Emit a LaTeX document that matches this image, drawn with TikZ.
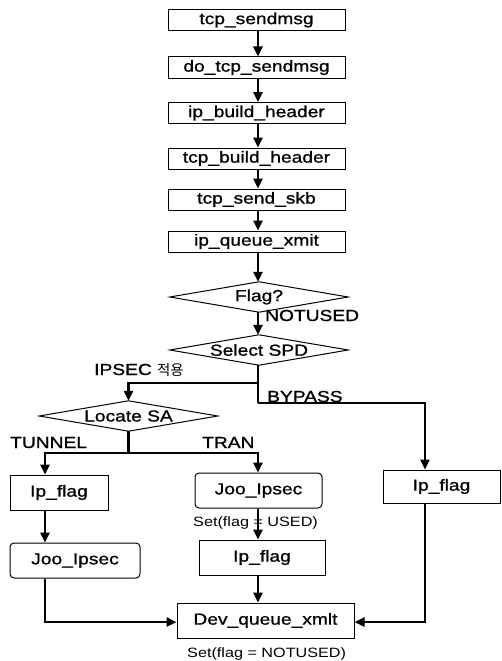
\documentclass[tikz,border=0pt]{standalone}
\usepackage{fontspec}
\setmainfont{Liberation Sans}[FakeStretch=1.2]
\newfontfamily\heavy{Liberation Sans}[FakeStretch=1.2,FakeBold=1]
\newfontfamily\kr{Noto Sans CJK KR}
\usetikzlibrary{arrows.meta,calc}
\begin{document}
\begin{tikzpicture}[x=1pt,y=-1pt,
  txt/.style={font=\heavy\fontsize{16}{18}\selectfont},
  small/.style={font=\fontsize{13.5}{15}\selectfont},
  topbox/.style={txt,draw,line width=1pt,minimum width=177pt,minimum height=21pt,inner sep=0pt},
  fbox/.style={txt,draw,line width=1pt,minimum height=35pt,inner sep=0pt},
  rbox/.style={fbox,rounded corners=4pt},
  dia/.style={txt,minimum width=178pt,minimum height=30pt,inner sep=0pt},
  dshape/.style={line width=1pt},
  lbl/.style={txt,inner sep=0pt,anchor=base west},
  slbl/.style={small,inner sep=0pt,anchor=base west},
  conn/.style={line width=2.4pt},
  arr/.style={conn,-{Triangle[length=10pt,width=9pt]}},
]
\useasboundingbox (0,0) rectangle (501,661);
\coordinate (cx) at (258,0);

% top chain
\node[topbox] (b1) at (256.5,20) {tcp\_sendmsg};
\node[topbox] (b2) at (256.5,67.5) {do\_tcp\_sendmsg};
\node[topbox] (b3) at (256.5,113) {ip\_build\_header};
\node[topbox] (b4) at (256.5,158.5) {tcp\_build\_header};
\node[topbox] (b5) at (256.5,199.5) {tcp\_send\_skb};
\node[topbox] (b6) at (256.5,241.5) {ip\_queue\_xmit};

\draw[arr] (b1.south -| cx) -- (b2.north -| cx);
\draw[arr] (b2.south -| cx) -- (b3.north -| cx);
\draw[arr] (b3.south -| cx) -- (b4.north -| cx);
\draw[arr] (b4.south -| cx) -- (b5.north -| cx);
\draw[arr] (b5.south -| cx) -- (b6.north -| cx);

% diamonds
\node[dia] (flag) at (259,297) {Flag?};
\draw[dshape] (flag.west) -- (flag.north) -- (flag.east) -- (flag.south) -- cycle;
\node[dia] (spd) at (259,350) {Select SPD};
\draw[dshape] (spd.west) -- (spd.north) -- (spd.east) -- (spd.south) -- cycle;
\node[dia] (sa) at (128.5,416) {Locate SA};
\draw[dshape] (sa.west) -- (sa.north) -- (sa.east) -- (sa.south) -- cycle;

\draw[arr] (b6.south -| cx) -- (flag.north -| cx);
\draw[arr] (flag.south -| cx) -- (spd.north -| cx);
\node[lbl] (lnot) at (265,321) {NOTUSED};

% SPD branches
\coordinate (sab) at (258,403);
\coordinate (ipb) at (258,383);
\coordinate (ipl) at (128.5,383);
\draw[conn] (spd.south -| cx) -- (sab);
\draw[arr] (ipb) -- (ipl) -- (sa.north);
\node[lbl] (lips) at (94,375) {IPSEC {\kr\fontsize{14.5}{16}\selectfont 적용}};
\node[lbl] (lbyp) at (267,402) {BYPASS};

% bottom boxes
\node[fbox,minimum width=98pt] (ipL) at (59,492.5) {Ip\_flag};
\node[rbox,minimum width=130pt] (jL) at (75,560.5) {Joo\_Ipsec};
\node[rbox,minimum width=127pt] (jM) at (258.5,490.5) {Joo\_Ipsec};
\node[fbox,minimum width=126pt] (ipM) at (262,557.5) {Ip\_flag};
\node[fbox,minimum width=177pt] (dev) at (265.5,620.5) {Dev\_queue\_xmlt};
\node[fbox,minimum width=117pt,minimum height=33pt] (ipR) at (441.5,486.5) {Ip\_flag};

% BYPASS path
\coordinate (rx) at (425,0);
\draw[arr] (sab) -- (sab -| rx) -- (ipR.north -| rx);

% Locate SA branches
\coordinate (lx) at (45,0);
\coordinate (sabot) at (128.5,453);
\draw[conn] (sa.south) -- (sabot);
\draw[arr] (sabot) -- (sabot -| lx) -- (ipL.north -| lx);
\draw[arr] (sabot) -- (sabot -| cx) -- (jM.north -| cx);
\node[lbl] (ltun) at (10,448) {TUNNEL};
\node[lbl] (ltran) at (202,448) {TRAN};

% lower chain
\draw[arr] (ipL.south -| lx) -- (jL.north -| lx);
\draw[arr] (jM.south -| cx) -- (ipM.north -| cx);
\node[slbl] (lused) at (193,526) {Set(flag = USED)};
\draw[arr] (ipM.south -| cx) -- (dev.north -| cx);

\coordinate (jy) at (0,622);
\draw[arr] (jL.south -| lx) -- (jy -| lx) -- (jy -| dev.west);
\draw[arr] (ipR.south -| rx) -- (jy -| rx) -- (jy -| dev.east);
\node[slbl] (lnused) at (187,657) {Set(flag = NOTUSED)};
\end{tikzpicture}
\end{document}
